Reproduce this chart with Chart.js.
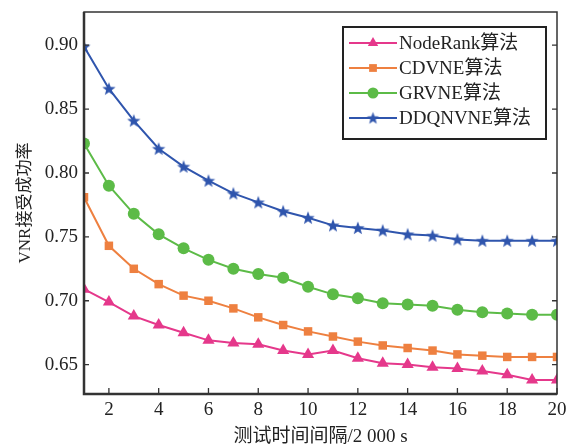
<!DOCTYPE html>
<html><head><meta charset="utf-8">
<script src="https://cdn.jsdelivr.net/npm/chart.js@4"></script>
<style>html,body{margin:0;padding:0;background:#fff}</style>
</head><body>
<canvas id="c" width="576" height="448" style="width:576px;height:448px;display:block"></canvas>
<script>
const xValues = [1,2,3,4,5,6,7,8,9,10,11,12,13,14,15,16,17,18,19,20];
const nodeRank = [0.709,0.699,0.688,0.681,0.675,0.669,0.667,0.666,0.661,0.658,0.661,0.655,0.651,0.650,0.648,0.647,0.645,0.642,0.638,0.638];
const cdvne    = [0.781,0.743,0.725,0.713,0.704,0.700,0.694,0.687,0.681,0.676,0.672,0.668,0.665,0.663,0.661,0.658,0.657,0.656,0.656,0.656];
const grvne    = [0.823,0.790,0.768,0.752,0.741,0.732,0.725,0.721,0.718,0.711,0.705,0.702,0.698,0.697,0.696,0.693,0.691,0.690,0.689,0.689];
const ddqnvne  = [0.899,0.866,0.841,0.819,0.805,0.794,0.784,0.777,0.770,0.765,0.759,0.757,0.755,0.752,0.751,0.748,0.747,0.747,0.747,0.747];
const seriesLabels = ['NodeRank算法','CDVNE算法','GRVNE算法','DDQNVNE算法'];
const xTicks = [2,4,6,8,10,12,14,16,18,20];
const yTicks = [0.65,0.70,0.75,0.80,0.85,0.90];
const xTitle = '测试时间间隔/2 000 s';
const yTitle = 'VNR接受成功率';

const FONT = '"Liberation Serif", "Noto Sans CJK SC", serif';
const colors = ['#e5388b','#ee8040','#5cbb47','#2f55ad'];

function starCanvas(r, color){
  const s = Math.ceil(r*2+2);
  const c = document.createElement('canvas');
  c.width = s; c.height = s;
  const g = c.getContext('2d');
  g.fillStyle = color;
  g.beginPath();
  for(let i=0;i<10;i++){
    const rr = i%2===0 ? r : r*0.42;
    const a = -Math.PI/2 + i*Math.PI/5;
    const px = s/2 + rr*Math.cos(a), py = s/2 + rr*Math.sin(a) + r*0.08;
    if(i===0) g.moveTo(px,py); else g.lineTo(px,py);
  }
  g.closePath(); g.fill();
  return c;
}
const starBig = starCanvas(7, colors[3]);
const starSmall = starCanvas(6.5, colors[3]);

function toPts(arr){ return arr.map((v,i)=>({x:xValues[i], y:v})); }

const datasets = [
  {label:seriesLabels[0], data:toPts(nodeRank), borderColor:colors[0], backgroundColor:colors[0], pointStyle:'triangle', pointRadius:7, legendRadius:6},
  {label:seriesLabels[1], data:toPts(cdvne), borderColor:colors[1], backgroundColor:colors[1], pointStyle:'rect', pointRadius:6, legendRadius:5.5},
  {label:seriesLabels[2], data:toPts(grvne), borderColor:colors[2], backgroundColor:colors[2], pointStyle:'circle', pointRadius:6, legendRadius:5.5},
  {label:seriesLabels[3], data:toPts(ddqnvne), borderColor:colors[3], backgroundColor:colors[3], pointStyle:starBig, pointRadius:7, legendImg:starSmall, legendRadius:6},
].map(d=>Object.assign({borderWidth:2, tension:0, pointBorderWidth:0, fill:false}, d));

const framePlugin = {
  id:'frame',
  afterDatasetsDraw(chart){
    const {ctx, chartArea:a, scales} = chart;
    ctx.save();
    ctx.strokeStyle = '#333';
    ctx.lineWidth = 1.3;
    ctx.beginPath();
    xTicks.forEach(t=>{
      const px = scales.x.getPixelForValue(t);
      ctx.moveTo(px, a.bottom); ctx.lineTo(px, a.bottom-6);
    });
    yTicks.forEach(t=>{
      const py = scales.y.getPixelForValue(t);
      ctx.moveTo(a.left, py); ctx.lineTo(a.left+5, py);
      ctx.moveTo(a.right, py); ctx.lineTo(a.right-5, py);
    });
    ctx.stroke();
    ctx.lineWidth = 1.5;
    ctx.strokeRect(a.left, a.top, a.right-a.left, a.bottom-a.top);
    ctx.lineWidth = 2.5;
    ctx.beginPath();
    ctx.moveTo(a.left, a.top); ctx.lineTo(a.left, a.bottom); ctx.lineTo(a.right, a.bottom);
    ctx.stroke();

    // legend
    const bx = 343, by = 27, bw = 203, bh = 112;
    ctx.fillStyle = '#fff';
    ctx.fillRect(bx, by, bw, bh);
    ctx.lineWidth = 2;
    ctx.strokeStyle = '#222';
    ctx.strokeRect(bx, by, bw, bh);
    const rows = [43, 68, 93, 118];
    ctx.font = '19px ' + FONT;
    ctx.textBaseline = 'middle';
    ctx.textAlign = 'left';
    chart.data.datasets.forEach((d,i)=>{
      const y = rows[i];
      ctx.strokeStyle = d.borderColor;
      ctx.lineWidth = 2;
      ctx.beginPath(); ctx.moveTo(349, y); ctx.lineTo(397, y); ctx.stroke();
      ctx.fillStyle = d.backgroundColor;
      Chart.helpers.drawPoint(ctx, {pointStyle: d.legendImg || d.pointStyle, radius: d.legendRadius, rotation:0, borderWidth:0}, 373, y);
      ctx.fillStyle = '#222';
      ctx.fillText(d.label, 399, y+1);
    });
    ctx.restore();
  }
};

new Chart(document.getElementById('c'), {
  type:'line',
  data:{datasets},
  plugins:[framePlugin],
  options:{
    responsive:false,
    animation:false,
    layout:{padding:{top:12, right:19, left:0, bottom:0}},
    plugins:{legend:{display:false}, tooltip:{enabled:false}},
    scales:{
      x:{
        type:'linear', min:1, max:20,
        afterBuildTicks(s){ s.ticks = xTicks.map(v=>({value:v})); },
        afterFit(s){ s.height = 54; s.paddingLeft = 0; s.paddingRight = 0; },
        grid:{display:false, drawTicks:false},
        border:{display:false},
        ticks:{font:{family:FONT, size:19}, color:'#222', padding:5, maxRotation:0, autoSkip:false},
        title:{display:true, text:xTitle, font:{family:FONT, size:19}, color:'#222', padding:{top:0,bottom:0}}
      },
      y:{
        type:'linear', min:0.627, max:0.926,
        afterBuildTicks(s){ s.ticks = yTicks.map(v=>({value:v})); },
        afterFit(s){ s.width = 84; s.paddingTop = 0; s.paddingBottom = 0; },
        grid:{display:false, drawTicks:false},
        border:{display:false},
        ticks:{font:{family:FONT, size:19}, color:'#222', padding:6, callback:v=>Number(v).toFixed(2)},
        title:{display:true, text:yTitle, font:{family:FONT, size:17}, color:'#222', padding:{top:15,bottom:0}}
      }
    }
  }
});
</script>
</body></html>
